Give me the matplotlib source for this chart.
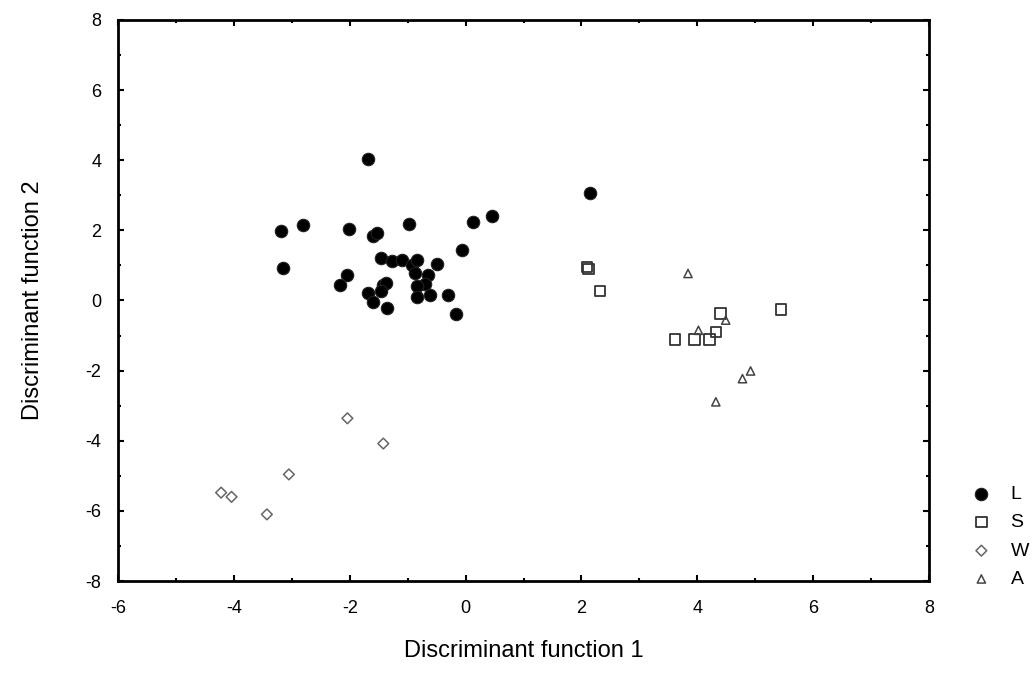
import matplotlib
matplotlib.use("Agg")
import matplotlib.pyplot as plt
from matplotlib.ticker import MultipleLocator

plt.rcParams['font.family'] = ['Liberation Sans', 'DejaVu Sans']
plt.rcParams['axes.unicode_minus'] = False

# group L (filled circles)
l_x = [-1.69, -3.18, -2.80, -2.02, -1.59, -1.53, -0.98, 0.13, 0.46, -3.15,
       -0.06, -1.46, -1.27, -1.09, -0.92, -0.83, -0.50, -2.05, -2.16, -0.87,
       -0.64, -0.70, -0.83, -1.42, -1.38, -1.46, -1.68, -1.59, -1.35, -0.83,
       -0.61, -0.31, -0.16, 2.14]
l_y = [4.04, 1.97, 2.16, 2.04, 1.83, 1.92, 2.17, 2.23, 2.40, 0.94,
       1.43, 1.20, 1.13, 1.15, 1.02, 1.15, 1.05, 0.73, 0.45, 0.77,
       0.72, 0.47, 0.41, 0.45, 0.50, 0.28, 0.22, -0.04, -0.21, 0.10,
       0.16, 0.17, -0.38, 3.07]

# group S (open squares)
s_x = [2.10, 2.12, 2.32, 3.62, 3.95, 4.21, 4.32, 4.40, 5.44]
s_y = [0.96, 0.90, 0.28, -1.11, -1.11, -1.11, -0.90, -0.37, -0.26]

# group W (open diamonds)
w_x = [-2.04, -1.42, -3.05, -4.22, -4.04, -3.43]
w_y = [-3.36, -4.08, -4.96, -5.48, -5.60, -6.10]

# group A (triangles)
a_x = [3.84, 4.02, 4.49, 4.78, 4.92, 4.32]
a_y = [0.77, -0.85, -0.56, -2.23, -2.01, -2.89]

group_names = ["L", "S", "W", "A"]

fig = plt.figure(figsize=(10.35, 6.73), dpi=100)
ax = fig.add_axes([0.114, 0.1367, 0.7836, 0.8336])

ax.scatter(l_x, l_y, s=80, marker='o', c='black', edgecolors='#222222', linewidths=0.8,
           label=group_names[0], zorder=3)
ax.scatter(s_x, s_y, s=55, marker='s', facecolors='none', edgecolors='#333333',
           linewidths=1.3, label=group_names[1], zorder=3)
ax.scatter(w_x, w_y, s=30, marker='D', facecolors='none', edgecolors='#666666',
           linewidths=1.1, label=group_names[2], zorder=3)
ax.scatter(a_x, a_y, s=35, marker='^', facecolors='none', edgecolors='#444444',
           linewidths=1.1, label=group_names[3], zorder=3)

ax.set_xlim(-6, 8)
ax.set_ylim(-8, 8)
ax.xaxis.set_major_locator(MultipleLocator(2))
ax.xaxis.set_minor_locator(MultipleLocator(1))
ax.yaxis.set_major_locator(MultipleLocator(2))
ax.yaxis.set_minor_locator(MultipleLocator(1))
ax.tick_params(which='both', direction='in', top=True, right=True, width=1.5,
               labelsize=13)
ax.tick_params(axis='x', pad=14)
ax.tick_params(axis='y', pad=12)
ax.tick_params(which='major', length=4)
ax.tick_params(which='minor', length=2)
for sp in ax.spines.values():
    sp.set_linewidth(2)

ax.set_xlabel('Discriminant function 1', fontsize=17, labelpad=16)
ax.set_ylabel('Discriminant function 2', fontsize=17, labelpad=30)

fig.legend(loc='upper left', bbox_to_anchor=(0.92, 0.293), frameon=False,
           fontsize=14, handletextpad=0.5, labelspacing=0.55, borderpad=0)

fig.savefig('out.png', dpi=100)
